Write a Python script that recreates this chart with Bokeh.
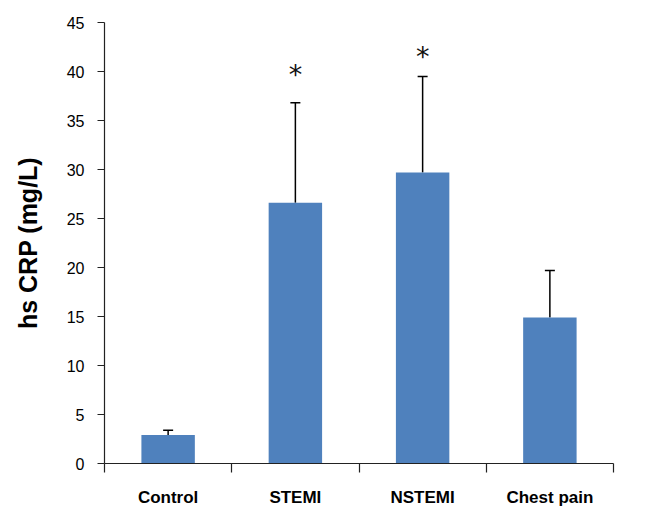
from bokeh.plotting import figure
from bokeh.models import (ColumnDataSource, Range1d, FixedTicker,
                          CustomJSTickFormatter, Whisker, TeeHead)
from bokeh.core.properties import value
from bokeh.embed import file_html
from bokeh.resources import INLINE

# ---- data ----
categories = ["Control", "STEMI", "NSTEMI", "Chest pain"]
means = [2.9, 26.6, 29.7, 14.9]
sd_upper = [3.4, 36.8, 39.5, 19.7]
star_groups = [1, 2]          # indices of bars with significance marker
star_levels = [39.7, 41.5]    # value where the asterisk sits
y_ticks = [0, 5, 10, 15, 20, 25, 30, 35, 40, 45]

xs = [i + 0.5 for i in range(len(categories))]
src = ColumnDataSource(dict(x=xs, mean=means, upper=sd_upper))

p = figure(width=645, height=509, output_backend="svg", toolbar_location=None,
           x_range=Range1d(0, len(categories)), y_range=Range1d(0, 45),
           min_border_left=104, min_border_top=22, min_border_right=32,
           min_border_bottom=44)
p.outline_line_color = None
p.xgrid.visible = False
p.ygrid.visible = False
p.background_fill_color = "white"
p.border_fill_color = "white"

p.vbar(x="x", top="mean", width=0.42, bottom=0, source=src,
       fill_color="#4F81BD", line_color=None)

p.add_layout(Whisker(base="x", lower="mean", upper="upper", source=src,
                     line_color="black", line_width=1.5, lower_head=None,
                     upper_head=TeeHead(size=10, line_color="black", line_width=1.5)))

p.text(x=[xs[i] for i in star_groups], y=star_levels, text=["*"] * len(star_groups),
       text_align="center", text_baseline="alphabetic",
       text_font=value("DejaVu Sans"), text_font_size="27px", text_color="#111111")

# x axis: labels at centres, tick marks at category boundaries
xa = p.xaxis[0]
xa.ticker = FixedTicker(ticks=xs, minor_ticks=list(range(len(categories) + 1)))
xa.formatter = CustomJSTickFormatter(args=dict(cats=categories),
                                     code="return cats[Math.floor(tick)];")
xa.major_tick_out = 0
xa.major_tick_in = 0
xa.minor_tick_out = 9
xa.minor_tick_in = 0
xa.minor_tick_line_color = "#222222"
xa.minor_tick_line_width = 1.2
xa.axis_line_color = "#222222"
xa.axis_line_width = 1.2
xa.major_label_standoff = 15
xa.major_label_text_font = "Liberation Sans"
xa.major_label_text_font_style = "bold"
xa.major_label_text_font_size = "17px"
xa.major_label_text_color = "black"

ya = p.yaxis[0]
ya.ticker = FixedTicker(ticks=y_ticks)
ya.major_tick_out = 7
ya.major_tick_in = 0
ya.minor_tick_line_color = None
ya.major_tick_line_color = "#222222"
ya.axis_line_color = "#222222"
ya.axis_line_width = 1.2
ya.major_label_standoff = 13
ya.major_label_text_font = "Liberation Sans"
ya.major_label_text_font_size = "16px"
ya.major_label_text_color = "black"
ya.axis_label = "hs CRP (mg/L)"
ya.axis_label_text_font = "Liberation Sans"
ya.axis_label_text_font_style = "bold"
ya.axis_label_text_font_size = "25px"
ya.axis_label_text_color = "black"
ya.axis_label_standoff = 22

open("out.html", "w").write(file_html(p, INLINE))
